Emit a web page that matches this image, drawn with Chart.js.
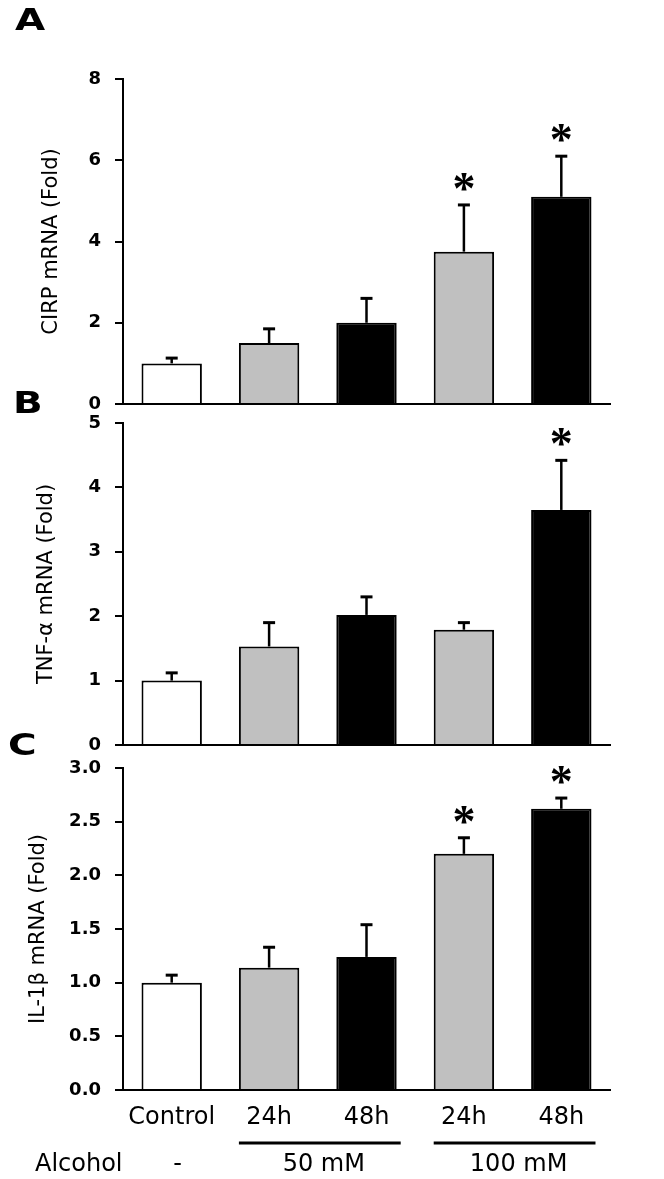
<!DOCTYPE html>
<html>
<head>
<meta charset="utf-8">
<script src="https://cdn.jsdelivr.net/npm/chart.js"></script>
<style>
body{margin:0;background:#fff;}
#wrap{position:relative;width:664px;height:1179px;overflow:hidden;}
canvas{position:absolute;left:0;}
.panel{position:absolute;font:bold 30px "DejaVu Sans";line-height:1;color:#000;transform:scaleX(1.3);transform-origin:left top;}
</style>
</head>
<body>
<div id="wrap">
<canvas id="chartA" width="664" height="434" style="top:0px"></canvas>
<canvas id="chartB" width="664" height="382" style="top:393px"></canvas>
<canvas id="chartC" width="664" height="441" style="top:738px"></canvas>
<div class="panel" style="left:15px;top:5px">A</div>
<div class="panel" style="left:13px;top:388px">B</div>
<div class="panel" style="left:8px;top:730px">C</div>
</div>
<script>
const groups = ['Control', '24h', '48h', '24h', '48h'];
const barColors = ['#ffffff', '#c0c0c0', '#000000', '#c0c0c0', '#000000'];

// alcohol dose row under the x axis
const treatmentLabel = 'Alcohol';
const controlDose = '-';
const doseLabels = ['50 mM', '100 mM'];
const doseBars = [[1, 2], [3, 4]];

// A: CIRP
const cirpMean = [1.0, 1.5, 2.0, 3.75, 5.1];
const cirpSem = [0.13, 0.35, 0.6, 1.15, 1.0];
const cirpSig = [false, false, false, true, true];
const cirpAxis = [0, 8, 2];

// B: TNF-alpha
const tnfMean = [1.0, 1.53, 2.02, 1.79, 3.65];
const tnfSem = [0.12, 0.37, 0.28, 0.11, 0.77];
const tnfSig = [false, false, false, false, true];
const tnfAxis = [0, 5, 1];

// C: IL-1beta
const il1Mean = [1.0, 1.14, 1.24, 2.2, 2.62];
const il1Sem = [0.07, 0.19, 0.3, 0.15, 0.1];
const il1Sig = [false, false, false, true, true];
const il1Axis = [0, 3, 0.5];

const errorBars = {
  id: 'errorBars',
  afterDatasetsDraw(chart, args, opts) {
    const ctx = chart.ctx;
    const y = chart.scales.y;
    const values = chart.data.datasets[0].data;
    ctx.save();
    ctx.strokeStyle = '#000';
    ctx.fillStyle = '#000';
    chart.getDatasetMeta(0).data.forEach((bar, i) => {
      const top = y.getPixelForValue(values[i] + opts.sem[i]);
      ctx.lineWidth = 2.5;
      ctx.beginPath();
      ctx.moveTo(bar.x, bar.y);
      ctx.lineTo(bar.x, top);
      ctx.stroke();
      ctx.lineWidth = 3;
      ctx.beginPath();
      ctx.moveTo(bar.x - 6, top);
      ctx.lineTo(bar.x + 6, top);
      ctx.stroke();
      if (opts.sig[i]) {
        ctx.font = 'bold 46px "Liberation Serif"';
        ctx.textAlign = 'center';
        ctx.textBaseline = 'alphabetic';
        const m = ctx.measureText('*');
        const cy = top - 23;
        ctx.fillText('*', bar.x, cy + (m.actualBoundingBoxAscent - m.actualBoundingBoxDescent) / 2);
      }
    });
    ctx.restore();
  }
};

const doseRow = {
  id: 'doseRow',
  afterDraw(chart) {
    const ctx = chart.ctx;
    const bars = chart.getDatasetMeta(0).data;
    const base = chart.chartArea.bottom;
    ctx.save();
    ctx.fillStyle = '#000';
    ctx.strokeStyle = '#000';
    ctx.font = '24px "DejaVu Sans"';
    ctx.textBaseline = 'middle';
    ctx.textAlign = 'left';
    ctx.fillText(treatmentLabel, 35, base + 75);
    ctx.textAlign = 'center';
    ctx.fillText(controlDose, bars[0].x + 6, base + 75);
    doseBars.forEach((pair, k) => {
      const a = bars[pair[0]], b = bars[pair[1]];
      const x1 = a.x - a.width / 2, x2 = b.x + b.width / 2 + 4;
      ctx.lineWidth = 3;
      ctx.beginPath();
      ctx.moveTo(x1, base + 53);
      ctx.lineTo(x2, base + 53);
      ctx.stroke();
      ctx.fillText(doseLabels[k], (x1 + x2) / 2 + 4, base + 75);
    });
    ctx.restore();
  }
};

function makePanel(id, mean, sem, sig, axis, title, pad, showLabels) {
  const plugins = [errorBars];
  if (showLabels) plugins.push(doseRow);
  return new Chart(document.getElementById(id), {
    type: 'bar',
    data: {
      labels: groups,
      datasets: [{
        data: mean,
        backgroundColor: barColors,
        borderColor: '#000',
        borderWidth: 2,
        barPercentage: 0.62,
        categoryPercentage: 1
      }]
    },
    options: {
      responsive: false,
      animation: false,
      layout: { padding: { left: 0, right: 54, top: pad.top, bottom: pad.bottom } },
      plugins: {
        legend: { display: false },
        tooltip: { enabled: false },
        errorBars: { sem: sem, sig: sig }
      },
      scales: {
        x: {
          grid: { display: true, drawOnChartArea: false, drawTicks: false },
          border: { display: true, color: '#000', width: 2 },
          ticks: {
            display: showLabels,
            color: '#000',
            font: { family: 'DejaVu Sans', size: 24 },
            padding: 13,
            maxRotation: 0,
            autoSkip: false
          },
          afterFit: s => { s.height = pad.xh; }
        },
        y: {
          min: axis[0],
          max: axis[1],
          grid: { display: true, drawOnChartArea: false, drawTicks: true, tickLength: 8, color: '#000', lineWidth: 2 },
          border: { display: true, color: '#000', width: 2 },
          ticks: {
            stepSize: axis[2],
            color: '#000',
            padding: 14,
            font: { family: 'DejaVu Sans', size: 18, weight: 'bold' },
            callback: v => axis[2] < 1 ? v.toFixed(1) : String(v)
          },
          title: {
            display: true,
            text: title,
            color: '#000',
            font: { family: 'DejaVu Sans', size: 21 },
            padding: { top: pad.title, bottom: 0 }
          },
          afterFit: s => { s.width = 123; }
        }
      }
    },
    plugins: plugins
  });
}

makePanel('chartA', cirpMean, cirpSem, cirpSig, cirpAxis, 'CIRP mRNA (Fold)',
  { top: 79, bottom: 30, xh: 0, title: 39 }, false);
makePanel('chartB', tnfMean, tnfSem, tnfSig, tnfAxis, 'TNF-\u03b1 mRNA (Fold)',
  { top: 30, bottom: 30, xh: 0, title: 34 }, false);
makePanel('chartC', il1Mean, il1Sem, il1Sig, il1Axis, 'IL-1\u03b2 mRNA (Fold)',
  { top: 30, bottom: 0, xh: 89, title: 26 }, true);
</script>
</body>
</html>
